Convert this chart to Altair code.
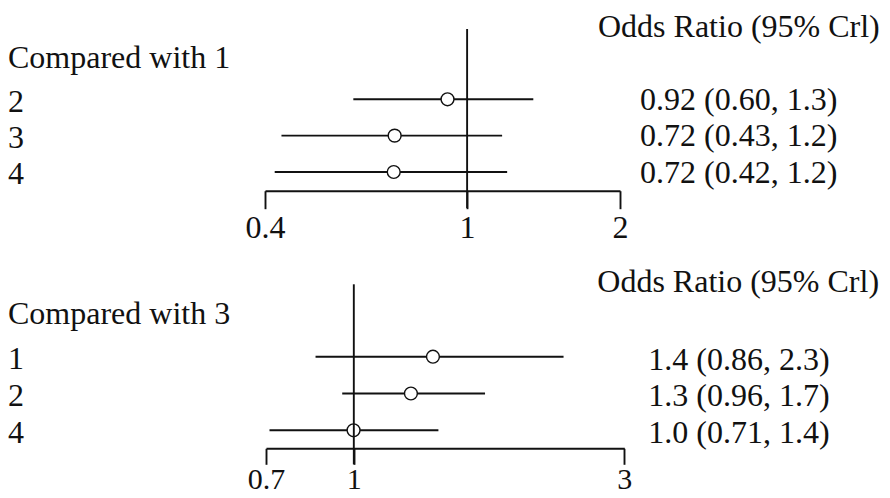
import altair as alt
import pandas as pd

FONT = "Liberation Serif"
INK = "#111111"
W, H = 874, 490

# ---- data ----
header_right = "Odds Ratio (95% Crl)"

top_title = "Compared with 1"
top_rows = ["2", "3", "4"]
top_or = [0.915, 0.720, 0.717]
top_lo = [0.597, 0.431, 0.418]
top_hi = [1.35, 1.172, 1.199]
top_labels = ["0.92 (0.60, 1.3)", "0.72 (0.43, 1.2)", "0.72 (0.42, 1.2)"]
top_ticks = [0.4, 1, 2]

bot_title = "Compared with 3"
bot_rows = ["1", "2", "4"]
bot_or = [1.379, 1.261, 0.999]
bot_lo = [0.856, 0.954, 0.710]
bot_hi = [2.344, 1.704, 1.41]
bot_labels = ["1.4 (0.86, 2.3)", "1.3 (0.96, 1.7)", "1.0 (0.71, 1.4)"]
bot_ticks = [0.7, 1, 3]


def panel(rows, ors, los, his, labels, ticks, title, xrange, yrange, axis_y,
          vline, title_y, hdr_x, hdr_y, txt_x, dy_left, dy_right,
          label_pad, tick_size, label_size):
    df = pd.DataFrame({"row": rows, "or": ors, "lo": los, "hi": his, "label": labels})
    xs = alt.Scale(type="log", domain=[ticks[0], ticks[-1]], range=xrange,
                   nice=False, zero=False)
    ys = alt.Scale(type="point", domain=rows, range=yrange, padding=0)
    xaxis = alt.Axis(
        values=ticks, format="~g", orient="bottom", offset=axis_y - H,
        title=None, grid=False, domainColor=INK, domainWidth=1.9,
        tickColor=INK, tickWidth=1.9, tickSize=tick_size,
        labelFont=FONT, labelFontSize=label_size, labelColor=INK,
        labelPadding=label_pad, labelFlush=False, labelOverlap=False,
    )
    base = alt.Chart(df)
    bars = base.mark_rule(color=INK, strokeWidth=1.9).encode(
        x=alt.X("lo:Q", scale=xs, axis=xaxis),
        x2="hi:Q",
        y=alt.Y("row:N", scale=ys, axis=None),
    )
    pts = base.mark_circle(fill="white", stroke=INK, strokeWidth=1.4,
                           size=165, opacity=1).encode(
        x="or:Q", y="row:N"
    )
    ref = alt.Chart(pd.DataFrame({"v": [1]})).mark_rule(
        color=INK, strokeWidth=1.9
    ).encode(x=alt.datum(1), y=alt.value(vline[0]), y2=alt.value(vline[1]))
    left = base.mark_text(align="left", baseline="alphabetic", dy=dy_left,
                          font=FONT, fontSize=32, color=INK).encode(
        x=alt.value(0), y="row:N", text="row:N"
    )
    right = base.mark_text(align="left", baseline="alphabetic", dy=dy_right,
                           font=FONT, fontSize=32, color=INK).encode(
        x=alt.value(txt_x), y="row:N", text="label:N"
    )
    hdr = pd.DataFrame({"t": [title, header_right],
                        "k": ["left", "right"]})
    t1 = alt.Chart(hdr).transform_filter("datum.k == 'left'").mark_text(
        align="left", baseline="alphabetic", font=FONT, fontSize=32, color=INK
    ).encode(x=alt.value(0), y=alt.value(title_y), text="t:N")
    t2 = alt.Chart(hdr).transform_filter("datum.k == 'right'").mark_text(
        align="left", baseline="alphabetic", font=FONT, fontSize=32, color=INK
    ).encode(x=alt.value(hdr_x), y=alt.value(hdr_y), text="t:N")
    return alt.layer(bars, pts, ref, left, right, t1, t2)


top = panel(top_rows, top_or, top_lo, top_hi, top_labels, top_ticks, top_title,
            xrange=[257, 612], yrange=[91.3, 164], axis_y=182.7,
            vline=[21, 200], title_y=60.3, hdr_x=590, hdr_y=29,
            txt_x=632, dy_left=12.3, dy_right=10.7, label_pad=4, tick_size=18,
            label_size=32)
bot = panel(bot_rows, bot_or, bot_lo, bot_hi, bot_labels, bot_ticks, bot_title,
            xrange=[258, 616.3], yrange=[348.7, 422.3], axis_y=440.3,
            vline=[276.3, 456.3], title_y=316.3, hdr_x=589.3, hdr_y=283.7,
            txt_x=640.3, dy_left=12.2, dy_right=12.8, label_pad=0, tick_size=16,
            label_size=30)

chart = (
    alt.layer(top, bot)
    .resolve_scale(x="independent", y="independent")
    .properties(width=W, height=H, padding=0,
                autosize=alt.AutoSizeParams(type="none"),
                background="white")
    .configure_view(strokeWidth=0)
)

chart.save("out.html", embed_options={"renderer": "svg", "actions": False})
